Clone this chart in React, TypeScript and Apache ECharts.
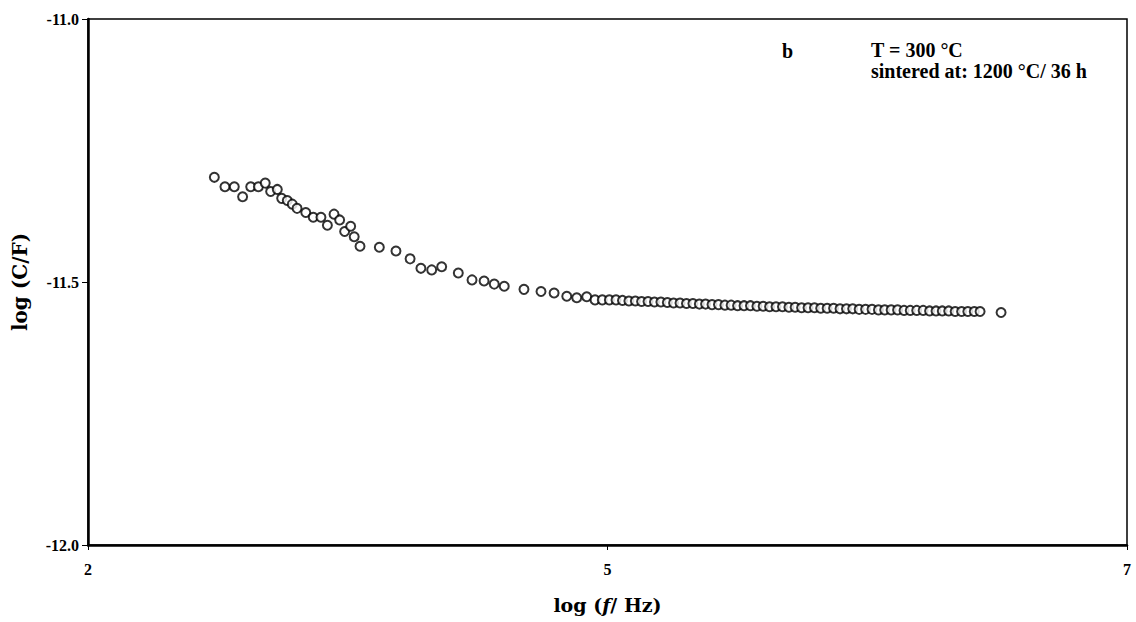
import React, { useEffect, useRef } from "react";
import * as echarts from "echarts";

const logF: number[] = [
  2.608, 2.659, 2.704, 2.744, 2.783, 2.82, 2.853, 2.879, 2.911, 2.932, 2.959, 2.983, 3.006,
  3.048, 3.084, 3.121, 3.152, 3.184, 3.211, 3.235, 3.264, 3.281, 3.309, 3.402, 3.482, 3.55,
  3.602, 3.654, 3.702, 3.782, 3.848, 3.906, 3.955, 4.003, 4.098, 4.18, 4.243, 4.304, 4.352,
  4.4, 4.44, 4.475, 4.509, 4.541,
  4.572, 4.603, 4.634, 4.664, 4.695, 4.726, 4.757, 4.788, 4.818, 4.849, 4.88, 4.911, 4.942,
  4.972, 5.003, 5.034, 5.065, 5.095, 5.126, 5.157, 5.188, 5.219, 5.249, 5.28, 5.311, 5.342,
  5.373, 5.403, 5.434, 5.465, 5.496, 5.526, 5.557, 5.588, 5.619, 5.65, 5.68, 5.711, 5.742,
  5.773, 5.804, 5.834, 5.865, 5.896, 5.927, 5.957, 5.988, 6.019, 6.05, 6.081, 6.111, 6.142,
  6.173, 6.204, 6.234, 6.265, 6.293, 6.394,
];

const logC: number[] = [
  -11.301, -11.319, -11.319, -11.338, -11.319, -11.319, -11.312, -11.328, -11.324, -11.341,
  -11.345, -11.352, -11.36, -11.368, -11.377, -11.377, -11.392, -11.371, -11.382, -11.404,
  -11.394, -11.414, -11.432, -11.434, -11.441, -11.456, -11.474, -11.477, -11.471, -11.483,
  -11.496, -11.498, -11.504, -11.508, -11.514, -11.518, -11.521, -11.527, -11.53, -11.528,
  -11.534, -11.534, -11.534, -11.534,
  -11.535, -11.536, -11.536, -11.537, -11.537, -11.538, -11.538, -11.539, -11.54, -11.54,
  -11.541, -11.541, -11.542, -11.542, -11.543, -11.543, -11.544, -11.544, -11.545, -11.545,
  -11.545, -11.546, -11.546, -11.547, -11.547, -11.547, -11.548, -11.548, -11.549, -11.549,
  -11.549, -11.55, -11.55, -11.55, -11.551, -11.551, -11.551, -11.552, -11.552, -11.552,
  -11.553, -11.553, -11.553, -11.553, -11.554, -11.554, -11.554, -11.554, -11.555, -11.555,
  -11.555, -11.555, -11.556, -11.556, -11.556, -11.556, -11.556, -11.558,
];

const xTicks: number[] = [2, 4.5, 7];
const yTicks: number[] = [-12, -11.5, -11];

const FONT = "'Liberation Serif', 'DejaVu Serif', serif";
const NAME_FONT = "'DejaVu Serif', 'Liberation Serif', serif";

export default function App() {
  const ref = useRef<HTMLDivElement>(null);
  useEffect(() => {
    if (!ref.current) return;
    const chart = echarts.init(ref.current, undefined, { renderer: "svg" });
    const data = logF.map((x, i) => [x, logC[i]]);
    chart.setOption({
      animation: false,
      backgroundColor: "#ffffff",
      grid: {
        left: 88,
        right: 9,
        top: 19,
        bottom: 77,
        outerBoundsMode: "none",
        containLabel: false,
        show: true,
        borderColor: "#000",
        borderWidth: 1.5,
        backgroundColor: "transparent",
      },
      xAxis: {
        type: "value",
        min: xTicks[0],
        max: xTicks[xTicks.length - 1],
        interval: xTicks[1] - xTicks[0],
        name: "log ({i|f}/ Hz)",
        nameLocation: "middle",
        nameGap: 50,
        nameTextStyle: {
          fontFamily: NAME_FONT,
          fontWeight: "bold",
          fontSize: 19,
          color: "#000",
          rich: {
            i: { fontFamily: NAME_FONT, fontWeight: "bold", fontStyle: "italic", fontSize: 19, color: "#000" },
          },
        },
        axisLine: { show: true, onZero: false, lineStyle: { color: "#000", width: 2.5 } },
        axisTick: { show: true, inside: false, length: 5, lineStyle: { color: "#000", width: 1 } },
        axisLabel: {
          margin: 16,
          fontFamily: FONT,
          fontWeight: "bold",
          fontSize: 16,
          color: "#000",
          formatter: (v: number) => String(Math.round(v)),
        },
        splitLine: { show: false },
      },
      yAxis: {
        type: "value",
        min: yTicks[0],
        max: yTicks[yTicks.length - 1],
        interval: 0.5,
        name: "log (C/F)",
        nameLocation: "middle",
        nameGap: 58,
        nameTextStyle: {
          fontFamily: NAME_FONT,
          fontWeight: "bold",
          fontSize: 20,
          color: "#000",
        },
        axisLine: { show: true, onZero: false, lineStyle: { color: "#000", width: 2.5 } },
        axisTick: { show: true, inside: false, length: 6, lineStyle: { color: "#000", width: 1 } },
        axisLabel: {
          margin: 9,
          fontFamily: FONT,
          fontWeight: "bold",
          fontSize: 16,
          color: "#000",
          formatter: (v: number) => v.toFixed(1),
        },
        splitLine: { show: false },
      },
      graphic: [
        {
          type: "text",
          left: 782,
          top: 41,
          style: { text: "b", fontFamily: FONT, fontWeight: "bold", fontSize: 20, fill: "#000" },
        },
        {
          type: "text",
          left: 871,
          top: 40,
          style: { text: "T = 300 °C", fontFamily: FONT, fontWeight: "bold", fontSize: 20, fill: "#000" },
        },
        {
          type: "text",
          left: 871,
          top: 61,
          style: {
            text: "sintered at: 1200 °C/ 36 h",
            fontFamily: FONT,
            fontWeight: "bold",
            fontSize: 20,
            fill: "#000",
          },
        },
      ],
      series: [
        {
          type: "scatter",
          data,
          symbol: "circle",
          symbolSize: 9,
          itemStyle: { color: "#fff", borderColor: "#000", borderWidth: 2 },
        },
      ],
    });
    return () => chart.dispose();
  }, []);
  return <div ref={ref} style={{ width: 1136, height: 622, position: "absolute", left: 0, top: 0 }} />;
}
